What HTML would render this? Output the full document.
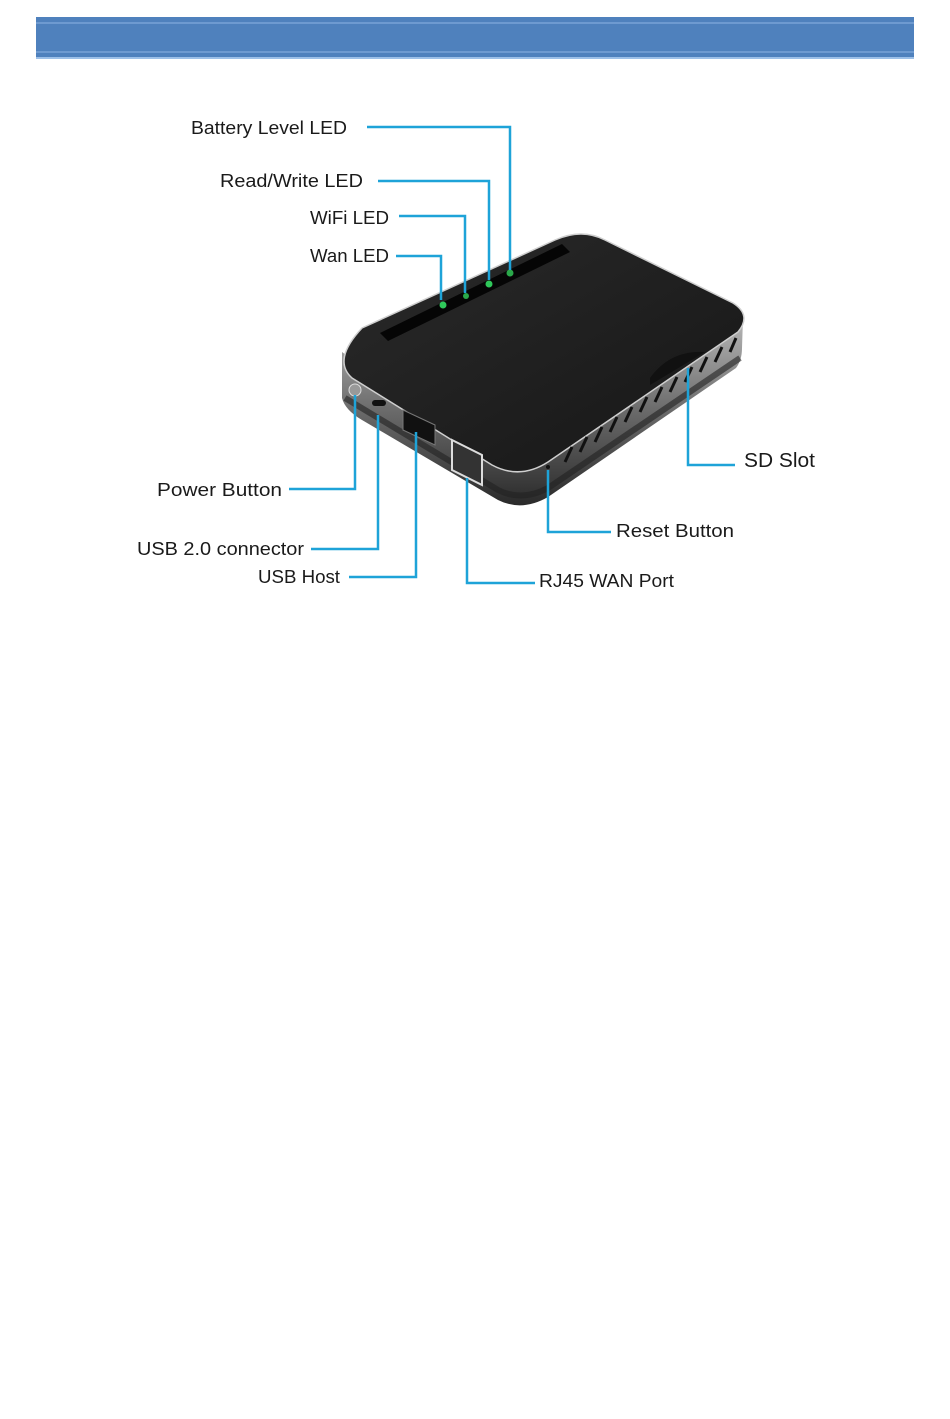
<!DOCTYPE html>
<html><head><meta charset="utf-8"><style>
html,body{margin:0;padding:0;background:#fff;}
svg{display:block}
text{font-family:"Liberation Sans",sans-serif;font-size:18px;fill:#1a1a1a}
</style></head><body>
<svg width="950" height="1419" viewBox="0 0 950 1419" xmlns="http://www.w3.org/2000/svg">
<rect x="36" y="17" width="878" height="41" fill="#4f81bd"/>
<line x1="36" y1="23" x2="914" y2="23" stroke="#8db3e2" stroke-width="1"/>
<line x1="36" y1="52" x2="914" y2="52" stroke="#8db3e2" stroke-width="1"/>
<rect x="36" y="57" width="878" height="2" fill="#9dc0e8"/>
<defs>
<linearGradient id="side" x1="0" y1="0" x2="0" y2="1">
<stop offset="0" stop-color="#b8b8b8"/><stop offset="0.5" stop-color="#6a6a6a"/><stop offset="1" stop-color="#2a2a2a"/>
</linearGradient>
<linearGradient id="top" x1="0" y1="0" x2="1" y2="1">
<stop offset="0" stop-color="#2a2a2a"/><stop offset="1" stop-color="#161616"/>
</linearGradient>
</defs>
<!-- side body -->
<path d="M342,352 L342,398 Q345,410 362,420 L498,500 Q522,512 548,497 L736,368 Q742,360 742,348 L743,318 L545,462 Q520,478 495,465 Z" fill="url(#side)"/>
<path d="M345,398 L498,490 Q522,502 548,488 L740,358" fill="none" stroke="#222" stroke-width="6" opacity="0.6"/>
<!-- top face -->
<path d="M362,328 L555,240 Q582,228 605,240 L733,303 Q752,315 738,332 L548,462 Q520,480 492,465 L352,378 Q332,360 362,328 Z" fill="url(#top)" stroke="#cfcfcf" stroke-width="1.5"/>
<!-- LED strip -->
<path d="M380,333 L562,244 L570,252 L388,341 Z" fill="#050505"/>
<circle cx="443" cy="305" r="3.5" fill="#2fc85a"/>
<circle cx="466" cy="296" r="3" fill="#2aa84a"/>
<circle cx="489" cy="284" r="3.5" fill="#2fc85a"/>
<circle cx="510" cy="273" r="3.5" fill="#2aa84a"/>
<!-- ports -->
<circle cx="355" cy="390" r="6" fill="#999" stroke="#ddd"/>
<rect x="372" y="400" width="14" height="6" rx="3" fill="#111"/>
<path d="M403,410 L435,425 L435,445 L403,430 Z" fill="#111" stroke="#777"/>
<path d="M452,440 L482,455 L482,485 L452,470 Z" fill="#333" stroke="#ddd" stroke-width="2"/>
<circle cx="548" cy="467" r="2" fill="#111"/>
<path d="M650,378 Q670,350 705,352 L650,385 Z" fill="#111"/>
<g stroke="#111" stroke-width="3">
<line x1="565" y1="462" x2="572" y2="447"/><line x1="580" y1="452" x2="587" y2="437"/><line x1="595" y1="442" x2="602" y2="427"/><line x1="610" y1="432" x2="617" y2="417"/><line x1="625" y1="422" x2="632" y2="407"/><line x1="640" y1="412" x2="647" y2="397"/><line x1="655" y1="402" x2="662" y2="387"/><line x1="670" y1="392" x2="677" y2="377"/><line x1="685" y1="382" x2="692" y2="367"/><line x1="700" y1="372" x2="707" y2="357"/><line x1="715" y1="362" x2="722" y2="347"/><line x1="730" y1="352" x2="736" y2="338"/>
</g>
<!-- connectors -->
<g fill="none" stroke="#1ea3d8" stroke-width="2.5">
<polyline points="367,127 510,127 510,270"/>
<polyline points="378,181 489,181 489,280"/>
<polyline points="399,216 465,216 465,293"/>
<polyline points="396,256 441,256 441,300"/>
<polyline points="289,489 355,489 355,395"/>
<polyline points="311,549 378,549 378,415"/>
<polyline points="349,577 416,577 416,432"/>
<polyline points="535,583 467,583 467,478"/>
<polyline points="611,532 548,532 548,470"/>
<polyline points="735,465 688,465 688,368"/>
</g>
<text x="191" y="134" textLength="156" lengthAdjust="spacingAndGlyphs">Battery Level LED</text>
<text x="220" y="187" textLength="143" lengthAdjust="spacingAndGlyphs">Read/Write LED</text>
<text x="310" y="224" textLength="79" lengthAdjust="spacingAndGlyphs">WiFi LED</text>
<text x="310" y="262" textLength="79" lengthAdjust="spacingAndGlyphs">Wan LED</text>
<text x="157" y="496" textLength="125" lengthAdjust="spacingAndGlyphs">Power Button</text>
<text x="137" y="555" textLength="167" lengthAdjust="spacingAndGlyphs">USB 2.0 connector</text>
<text x="258" y="583" textLength="82" lengthAdjust="spacingAndGlyphs">USB Host</text>
<text x="539" y="587" textLength="135" lengthAdjust="spacingAndGlyphs">RJ45 WAN Port</text>
<text x="616" y="537" textLength="118" lengthAdjust="spacingAndGlyphs">Reset Button</text>
<text x="744" y="467" textLength="71" lengthAdjust="spacingAndGlyphs" style="font-size:20px">SD Slot</text>
</svg>
</body></html>
